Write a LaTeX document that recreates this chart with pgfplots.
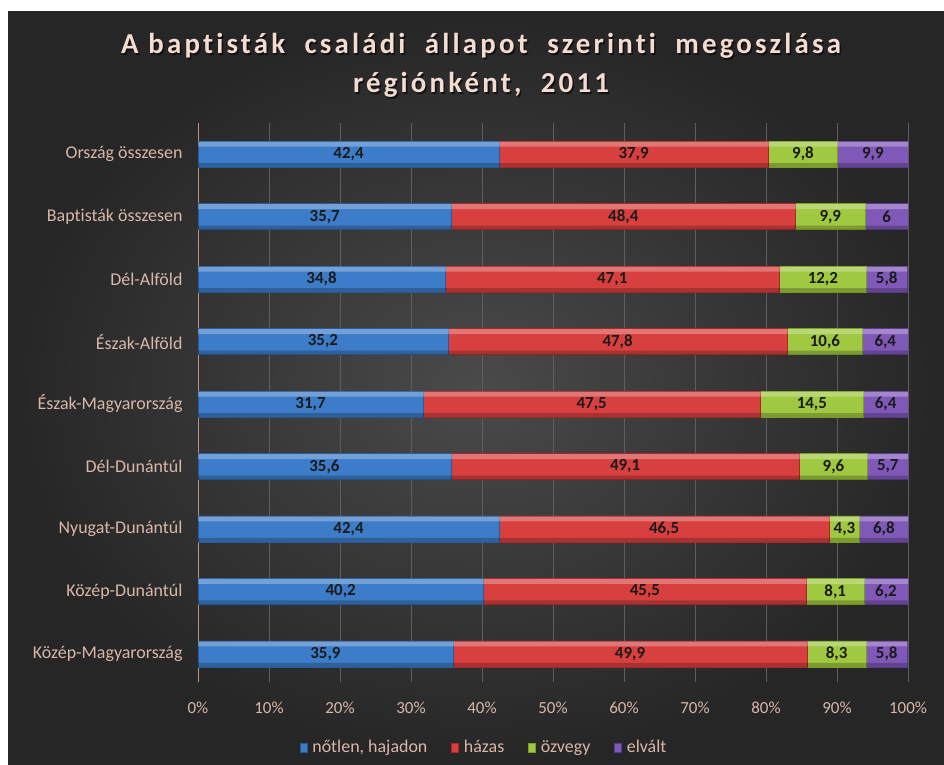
\documentclass[border=0pt]{standalone}
\usepackage{pgfplots}
\pgfplotsset{compat=1.18}
\usepackage{pgfplotstable}
\usepackage{fontspec}
\setmainfont{Carlito}[Ligatures={NoCommon}]
\newfontfamily\titlefont{Carlito}[LetterSpace=11, Ligatures={NoCommon}]
\definecolor{bgin}{HTML}{4A4A4A}
\definecolor{bgout}{HTML}{262626}
\definecolor{gridcol}{HTML}{5E5E5E}
\definecolor{axcol}{HTML}{C09080}
\definecolor{tickcol}{HTML}{D8B8A8}
\definecolor{titlecol}{HTML}{F5DCD0}
\definecolor{labcol}{HTML}{1A1A1A}
\definecolor{bluemid}{HTML}{3C7CC8}
\definecolor{bluebot}{HTML}{2A5A98}
\definecolor{redmid}{HTML}{D84040}
\definecolor{redbot}{HTML}{A82828}
\definecolor{greenmid}{HTML}{A0C840}
\definecolor{greenbot}{HTML}{78A020}
\definecolor{purpmid}{HTML}{8058B8}
\definecolor{purpbot}{HTML}{5A3A90}
% dp = length drawn (row 4 sums to 100.1, drawn normalised), d = label
\pgfplotstableread{
y a b c d dp
0 35.9 49.9 8.3 5.8 5.8
1 40.2 45.5 8.1 6.2 6.2
2 42.4 46.5 4.3 6.8 6.8
3 35.6 49.1 9.6 5.7 5.7
4 31.7 47.5 14.5 6.4 6.3
5 35.2 47.8 10.6 6.4 6.4
6 34.8 47.1 12.2 5.8 5.8
7 35.7 48.4 9.9 6 6
8 42.4 37.9 9.8 9.9 9.9
}\data
% label positions: middle of each segment
\pgfplotstablecreatecol[create col/expr={\thisrow{a}/2}]{ma}\data
\pgfplotstablecreatecol[create col/expr={\thisrow{a}+\thisrow{b}/2}]{mb}\data
\pgfplotstablecreatecol[create col/expr={\thisrow{a}+\thisrow{b}+\thisrow{c}/2}]{mc}\data
\pgfplotstablecreatecol[create col/expr={\thisrow{a}+\thisrow{b}+\thisrow{c}+\thisrow{dp}/2}]{md}\data
\pgfplotsset{
  commonax/.style={at={(198bp,83bp)}, anchor=south west, scale only axis,
    width=710bp, height=559bp, xmin=0, xmax=100, ymin=-0.45, ymax=8.5},
}
\begin{document}
\begin{tikzpicture}[x=1bp,y=1bp]
\fill[white] (0,0) rectangle (944,765);
\shade[inner color=bgin, outer color=bgout] (8,0) rectangle (944,753);
\begin{scope}[font=\titlefont\bfseries\fontsize{29}{29}\selectfont]
\node[anchor=base, text=black, opacity=0.6] at (482.5,709.5) {A baptisták\ \ családi\ \ állapot\ \ szerinti\ \ megoszlása};
\node[anchor=base, text=titlecol] at (481,711) {A baptisták\ \ családi\ \ állapot\ \ szerinti\ \ megoszlása};
\node[anchor=base, text=black, opacity=0.6] at (482.5,670.5) {régiónként,\ \ 2011};
\node[anchor=base, text=titlecol] at (481,672) {régiónként,\ \ 2011};
\end{scope}
\begin{axis}[commonax,
  xbar stacked,
  bar width=26bp,
  axis lines*=left, axis line style={-},
  x axis line style={draw=none},
  y axis line style={draw=axcol, line width=1bp},
  xmajorgrids, major grid style={gridcol, line width=0.8bp},
  major tick length=0pt,
  ytick={0,...,8},
  yticklabels={Közép-Magyarország,Közép-Dunántúl,Nyugat-Dunántúl,Dél-Dunántúl,Észak-Magyarország,Észak-Alföld,Dél-Alföld,Baptisták összesen,Ország összesen},
  yticklabel style={font=\fontsize{18}{18}\selectfont, text=tickcol, xshift=-12bp},
  xtick={0,10,...,100},
  xticklabel={\pgfmathprintnumber{\tick}\%},
  xticklabel style={font=\fontsize{17}{17}\selectfont, text=tickcol, yshift=-16bp},
  /pgf/number format/.cd, assume math mode=true, /pgfplots/.cd,
  legend style={at={(0.403,-0.116)}, anchor=center, draw=none, fill=none, text=tickcol, font=\fontsize{18}{18}\selectfont, legend columns=4, /tikz/every even column/.append style={column sep=22bp}, /tikz/every odd column/.append style={column sep=3bp}},
  legend image code/.code={\fill[#1] (2bp,-5bp) rectangle (9bp,4bp);},
]
\addplot[draw=bluebot, line width=0.5bp, fill=bluemid] table[x=a, y=y] {\data};
\addlegendentry{nőtlen, hajadon}
\addplot[draw=redbot, line width=0.5bp, fill=redmid] table[x=b, y=y] {\data};
\addlegendentry{házas}
\addplot[draw=greenbot, line width=0.5bp, fill=greenmid] table[x=c, y=y] {\data};
\addlegendentry{özvegy}
\addplot[draw=purpbot, line width=0.5bp, fill=purpmid] table[x=dp, y=y] {\data};
\addlegendentry{elvált}
\end{axis}
% highlights and shade (same data, same geometry)
\begin{axis}[commonax, xbar stacked, axis lines=none, ticks=none]
\addplot[draw=none, fill=white, fill opacity=0.28, bar width=5bp, bar shift=10bp] table[x=a, y=y] {\data};
\addplot[draw=none, fill=white, fill opacity=0.28, bar width=5bp, bar shift=10bp] table[x=b, y=y] {\data};
\addplot[draw=none, fill=white, fill opacity=0.28, bar width=5bp, bar shift=10bp] table[x=c, y=y] {\data};
\addplot[draw=none, fill=white, fill opacity=0.28, bar width=5bp, bar shift=10bp] table[x=dp, y=y] {\data};
\end{axis}
\begin{axis}[commonax, xbar stacked, axis lines=none, ticks=none]
\addplot[draw=none, fill=black, fill opacity=0.22, bar width=4bp, bar shift=-11bp] table[x=a, y=y] {\data};
\addplot[draw=none, fill=black, fill opacity=0.22, bar width=4bp, bar shift=-11bp] table[x=b, y=y] {\data};
\addplot[draw=none, fill=black, fill opacity=0.22, bar width=4bp, bar shift=-11bp] table[x=c, y=y] {\data};
\addplot[draw=none, fill=black, fill opacity=0.22, bar width=4bp, bar shift=-11bp] table[x=dp, y=y] {\data};
\end{axis}
% value labels in the middle of each segment
\begin{axis}[commonax, axis lines=none, ticks=none,
  /pgf/number format/.cd, use comma, 1000 sep={}, assume math mode=true, /pgfplots/.cd,
  nodes near coords, point meta=explicit,
  nodes near coords style={font=\bfseries\fontsize{17}{17}\selectfont, text=labcol, anchor=center, inner sep=0pt}]
\addplot[draw=none, mark=none] table[x=ma, y=y, meta=a] {\data};
\addplot[draw=none, mark=none] table[x=mb, y=y, meta=b] {\data};
\addplot[draw=none, mark=none] table[x=mc, y=y, meta=c] {\data};
\addplot[draw=none, mark=none] table[x=md, y=y, meta=d] {\data};
\end{axis}
\end{tikzpicture}
\end{document}
